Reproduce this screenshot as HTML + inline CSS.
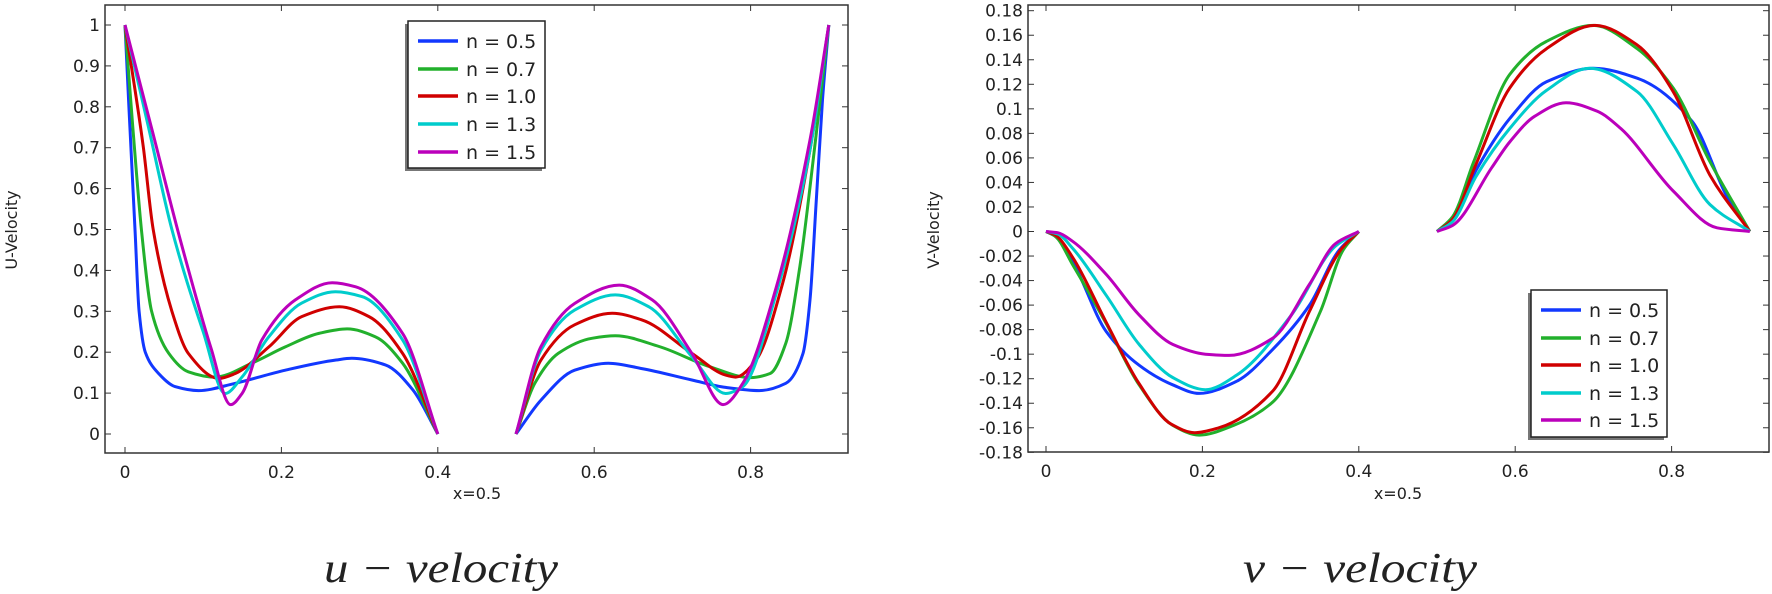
<!DOCTYPE html>
<html><head><meta charset="utf-8"><style>
html,body{margin:0;padding:0;background:#fff;}
svg{display:block;}
text{font-family:"DejaVu Sans","Liberation Sans",sans-serif;fill:#222;}
</style></head><body>
<svg id="s" width="1772" height="594" viewBox="0 0 1772 594" xmlns="http://www.w3.org/2000/svg"></svg>
<script>
const S=document.getElementById('s');const NS='http://www.w3.org/2000/svg';
function el(t,a,txt){const e=document.createElementNS(NS,t);for(const k in a)e.setAttribute(k,a[k]);if(txt!==undefined)e.textContent=txt;S.appendChild(e);return e;}
const C=['#1238ff','#22b02c','#d00000','#00cccc','#bb00bb'];
const N=['n = 0.5','n = 0.7','n = 1.0','n = 1.3','n = 1.5'];
function path(pts,X,Y){ // monotone cubic (Fritsch-Carlson) in data space
 const n=pts.length,x=pts.map(p=>p[0]),y=pts.map(p=>p[1]);
 const d=[],m=new Array(n);
 for(let i=0;i<n-1;i++)d.push((y[i+1]-y[i])/(x[i+1]-x[i]));
 m[0]=d[0];m[n-1]=d[n-2];
 for(let i=1;i<n-1;i++){if(d[i-1]*d[i]<=0)m[i]=0;else{const h0=x[i]-x[i-1],h1=x[i+1]-x[i];const w1=2*h1+h0,w2=h1+2*h0;m[i]=(w1+w2)/(w1/d[i-1]+w2/d[i]);}}
 let s='M'+X(x[0]).toFixed(1)+','+Y(y[0]).toFixed(1);
 for(let i=0;i<n-1;i++){const h=x[i+1]-x[i];
  const c1x=x[i]+h/3,c1y=y[i]+m[i]*h/3,c2x=x[i+1]-h/3,c2y=y[i+1]-m[i+1]*h/3;
  s+='C'+X(c1x).toFixed(1)+','+Y(c1y).toFixed(1)+' '+X(c2x).toFixed(1)+','+Y(c2y).toFixed(1)+' '+X(x[i+1]).toFixed(1)+','+Y(y[i+1]).toFixed(1);}
 return s;}
function frame(L,T,R,B,xs,X,ys,Y){
 el('rect',{x:L,y:T,width:R-L,height:B-T,fill:'none',stroke:'#333','stroke-width':1.5});
 xs.forEach(v=>{const x=X(v);el('line',{x1:x,y1:B,x2:x,y2:B-6,stroke:'#333'});el('line',{x1:x,y1:T,x2:x,y2:T+6,stroke:'#333'});
  el('text',{x:x,y:B+25,'text-anchor':'middle','font-size':17},String(v));});
 ys.forEach(v=>{const y=Y(v);el('line',{x1:L,y1:y,x2:L+6,y2:y,stroke:'#333'});el('line',{x1:R,y1:y,x2:R-6,y2:y,stroke:'#333'});
  el('text',{x:L-5,y:y+6,'text-anchor':'end','font-size':17},String(v));});
}
function legend(x,y,w,h,rows){
 el('rect',{x:x-3,y:y+3,width:w,height:h,fill:'#777'});
 el('rect',{x:x,y:y,width:w,height:h,fill:'#fff',stroke:'#222','stroke-width':1.5});
 rows.forEach((ry,i)=>{el('line',{x1:x+10,y1:ry,x2:x+50,y2:ry,stroke:C[i],'stroke-width':3.5});
  el('text',{x:x+58,y:ry+7,'font-size':19},N[i]);});
}
const XL=v=>125+782*v, YL=v=>434-409*v;
frame(105,5,848,453,[0,0.2,0.4,0.6,0.8],XL,[0,0.1,0.2,0.3,0.4,0.5,0.6,0.7,0.8,0.9,1],YL);
el('text',{x:0,y:0,transform:'translate(17,230) rotate(-90)','text-anchor':'middle','font-size':16},'U-Velocity');
el('text',{x:477,y:499,'text-anchor':'middle','font-size':16},'x=0.5');
const U1=[
[[0,1],[0.005,0.8],[0.0128,0.5],[0.018,0.3],[0.026,0.2],[0.043,0.148],[0.064,0.116],[0.094,0.106],[0.141,0.124],[0.205,0.156],[0.27,0.181],[0.29,0.185],[0.333,0.169],[0.368,0.108],[0.4,0]],
[[0,1],[0.01,0.75],[0.021,0.5],[0.034,0.3],[0.056,0.197],[0.081,0.152],[0.115,0.139],[0.162,0.173],[0.205,0.213],[0.248,0.246],[0.284,0.257],[0.32,0.238],[0.355,0.173],[0.4,0]],
[[0,1],[0.0235,0.7],[0.036,0.5],[0.06,0.3],[0.081,0.197],[0.12,0.136],[0.141,0.148],[0.184,0.213],[0.226,0.287],[0.274,0.311],[0.312,0.287],[0.355,0.197],[0.4,0]],
[[0,1],[0.03,0.75],[0.06,0.5],[0.1,0.25],[0.128,0.099],[0.15,0.14],[0.184,0.238],[0.226,0.32],[0.269,0.348],[0.303,0.336],[0.355,0.23],[0.4,0]],
[[0,1],[0.035,0.74],[0.07,0.48],[0.11,0.21],[0.135,0.072],[0.15,0.1],[0.175,0.23],[0.218,0.328],[0.265,0.37],[0.295,0.36],[0.355,0.246],[0.4,0]]];
const U2=[
[[0.5,0],[0.532,0.083],[0.575,0.156],[0.618,0.173],[0.661,0.16],[0.725,0.132],[0.768,0.114],[0.811,0.106],[0.845,0.124],[0.867,0.197],[0.876,0.328],[0.884,0.572],[0.892,0.817],[0.9,1]],
[[0.5,0],[0.524,0.124],[0.554,0.197],[0.597,0.234],[0.627,0.24],[0.683,0.214],[0.747,0.165],[0.8,0.138],[0.825,0.148],[0.845,0.222],[0.863,0.41],[0.884,0.735],[0.9,1]],
[[0.5,0],[0.532,0.181],[0.575,0.267],[0.623,0.295],[0.661,0.279],[0.725,0.197],[0.768,0.144],[0.781,0.139],[0.807,0.181],[0.841,0.369],[0.876,0.695],[0.9,1]],
[[0.5,0],[0.532,0.205],[0.575,0.303],[0.627,0.34],[0.67,0.311],[0.725,0.189],[0.768,0.099],[0.79,0.116],[0.833,0.345],[0.876,0.695],[0.9,1]],
[[0.5,0],[0.532,0.214],[0.575,0.319],[0.632,0.364],[0.674,0.328],[0.725,0.197],[0.765,0.072],[0.79,0.124],[0.833,0.36],[0.876,0.719],[0.9,1]]];
for(let i=0;i<5;i++){el('path',{d:path(U1[i],XL,YL),fill:'none',stroke:C[i],'stroke-width':3});el('path',{d:path(U2[i],XL,YL),fill:'none',stroke:C[i],'stroke-width':3});}
legend(408,21,137,147,[41,69,96,124,152]);
const XR=v=>1046+782*v, YR=v=>231.5-1226.7*v;
frame(1028,5,1769,452,[0,0.2,0.4,0.6,0.8],XR,[-0.18,-0.16,-0.14,-0.12,-0.1,-0.08,-0.06,-0.04,-0.02,0,0.02,0.04,0.06,0.08,0.1,0.12,0.14,0.16,0.18],YR);
el('text',{x:0,y:0,transform:'translate(939,230) rotate(-90)','text-anchor':'middle','font-size':16},'V-Velocity');
el('text',{x:1398,y:499,'text-anchor':'middle','font-size':16},'x=0.5');
const V1=[
[[0,0],[0.012,-0.004],[0.034,-0.0245],[0.077,-0.0815],[0.119,-0.109],[0.162,-0.125],[0.196,-0.132],[0.244,-0.122],[0.29,-0.096],[0.337,-0.06],[0.375,-0.015],[0.4,0]],
[[0,0],[0.012,-0.004],[0.034,-0.027],[0.077,-0.075],[0.119,-0.125],[0.162,-0.158],[0.196,-0.166],[0.24,-0.158],[0.29,-0.139],[0.351,-0.065],[0.38,-0.015],[0.4,0]],
[[0,0],[0.012,-0.003],[0.034,-0.021],[0.077,-0.074],[0.119,-0.124],[0.16,-0.157],[0.19,-0.164],[0.221,-0.16],[0.29,-0.13],[0.337,-0.065],[0.378,-0.014],[0.4,0]],
[[0,0],[0.015,-0.002],[0.034,-0.0136],[0.077,-0.052],[0.119,-0.092],[0.162,-0.119],[0.204,-0.129],[0.244,-0.117],[0.314,-0.068],[0.37,-0.012],[0.4,0]],
[[0,0],[0.015,-0.001],[0.034,-0.008],[0.077,-0.035],[0.119,-0.068],[0.162,-0.092],[0.204,-0.1],[0.234,-0.101],[0.29,-0.087],[0.337,-0.043],[0.37,-0.01],[0.4,0]]];
const V2=[
[[0.5,0],[0.52,0.01],[0.55,0.05],[0.593,0.092],[0.64,0.122],[0.7,0.133],[0.756,0.125],[0.826,0.09],[0.872,0.027],[0.9,0]],
[[0.5,0],[0.52,0.012],[0.547,0.057],[0.593,0.128],[0.64,0.155],[0.7,0.168],[0.756,0.149],[0.802,0.117],[0.849,0.057],[0.9,0]],
[[0.5,0],[0.52,0.01],[0.55,0.055],[0.593,0.117],[0.64,0.149],[0.702,0.168],[0.756,0.152],[0.802,0.114],[0.849,0.046],[0.9,0]],
[[0.5,0],[0.52,0.008],[0.55,0.045],[0.593,0.084],[0.64,0.115],[0.695,0.133],[0.756,0.114],[0.802,0.071],[0.849,0.022],[0.9,0]],
[[0.5,0],[0.52,0.005],[0.57,0.052],[0.593,0.073],[0.625,0.094],[0.665,0.105],[0.705,0.098],[0.735,0.084],[0.802,0.033],[0.858,0.003],[0.9,0]]];
for(let i=0;i<5;i++){el('path',{d:path(V1[i],XR,YR),fill:'none',stroke:C[i],'stroke-width':3});el('path',{d:path(V2[i],XR,YR),fill:'none',stroke:C[i],'stroke-width':3});}
legend(1531,290,136,147,[310,338,365,393,420]);
el('text',{x:441,y:582,'text-anchor':'middle','font-size':42,'font-style':'italic',style:'font-family:"Liberation Serif",serif',textLength:234,lengthAdjust:'spacingAndGlyphs'},'u − velocity');
el('text',{x:1360,y:582,'text-anchor':'middle','font-size':42,'font-style':'italic',style:'font-family:"Liberation Serif",serif',textLength:234,lengthAdjust:'spacingAndGlyphs'},'v − velocity');
</script>
</body></html>
